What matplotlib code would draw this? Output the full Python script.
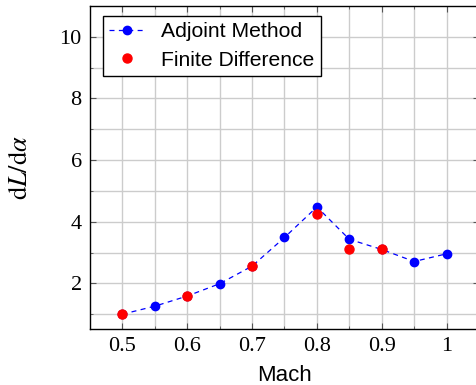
import matplotlib
matplotlib.use("Agg")
import matplotlib.pyplot as plt

mach_adj = [0.5, 0.55, 0.6, 0.65, 0.7, 0.75, 0.8, 0.85, 0.9, 0.95, 1.0]
dl_adj = [1.0, 1.26, 1.59, 1.99, 2.56, 3.49, 4.48, 3.43, 3.10, 2.71, 2.96]
mach_fd = [0.5, 0.6, 0.7, 0.8, 0.85, 0.9]
dl_fd = [1.0, 1.58, 2.56, 4.26, 3.10, 3.10]
xticks = [0.5, 0.6, 0.7, 0.8, 0.9, 1.0]
xtick_labels = ["0.5", "0.6", "0.7", "0.8", "0.9", "1"]
yticks = [2, 4, 6, 8, 10]

plt.rcParams['mathtext.fontset'] = 'stix'
fig = plt.figure(figsize=(4.76, 3.85), dpi=100)
ax = fig.add_axes([90/476, 1-329/385, 389/476, 323/385])

ax.plot(mach_adj, dl_adj, linestyle=(0, (4, 3.5)), color='blue', lw=0.9,
        marker='o', markersize=6, label='Adjoint Method', zorder=3)
ax.plot(mach_fd, dl_fd, linestyle='none', color='red', marker='o',
        markersize=6.5, label='Finite Difference', zorder=4)

ax.set_xlim(0.45, 1.05)
ax.set_ylim(0.52, 11.0)
ax.set_xticks(xticks)
ax.set_xticklabels(xtick_labels, family='Liberation Serif', fontsize=16)
ax.set_xticks([0.55, 0.65, 0.75, 0.85, 0.95], minor=True)
ax.set_yticks(yticks)
ax.set_yticklabels([str(v) for v in yticks], family='Liberation Serif', fontsize=16)
ax.set_yticks([1, 3, 5, 7, 9], minor=True)
ax.grid(True, which='both', color='#cccccc', lw=1)
ax.set_axisbelow(True)
ax.tick_params(which='both', direction='in', top=True, right=True, color='#555555')
ax.tick_params(which='major', length=4, pad=6)
ax.tick_params(which='minor', length=2.5)
for s in ax.spines.values():
    s.set_linewidth(1.0)

ax.set_xlabel('Mach', family='Liberation Sans', fontsize=16, labelpad=6)
ax.set_ylabel(r'$\mathrm{d}L/\mathrm{d}\alpha$', fontsize=19, labelpad=19)

leg = ax.legend(loc='upper left', bbox_to_anchor=(13/389, 1-10/323),
                prop={'family': 'Liberation Sans', 'size': 15.2},
                fancybox=False, edgecolor='black', framealpha=1,
                borderaxespad=0, handlelength=1.7, handletextpad=0.75,
                borderpad=0.3, labelspacing=0.45)
leg.get_frame().set_linewidth(1.0)

fig.savefig('out.png', dpi=100)
